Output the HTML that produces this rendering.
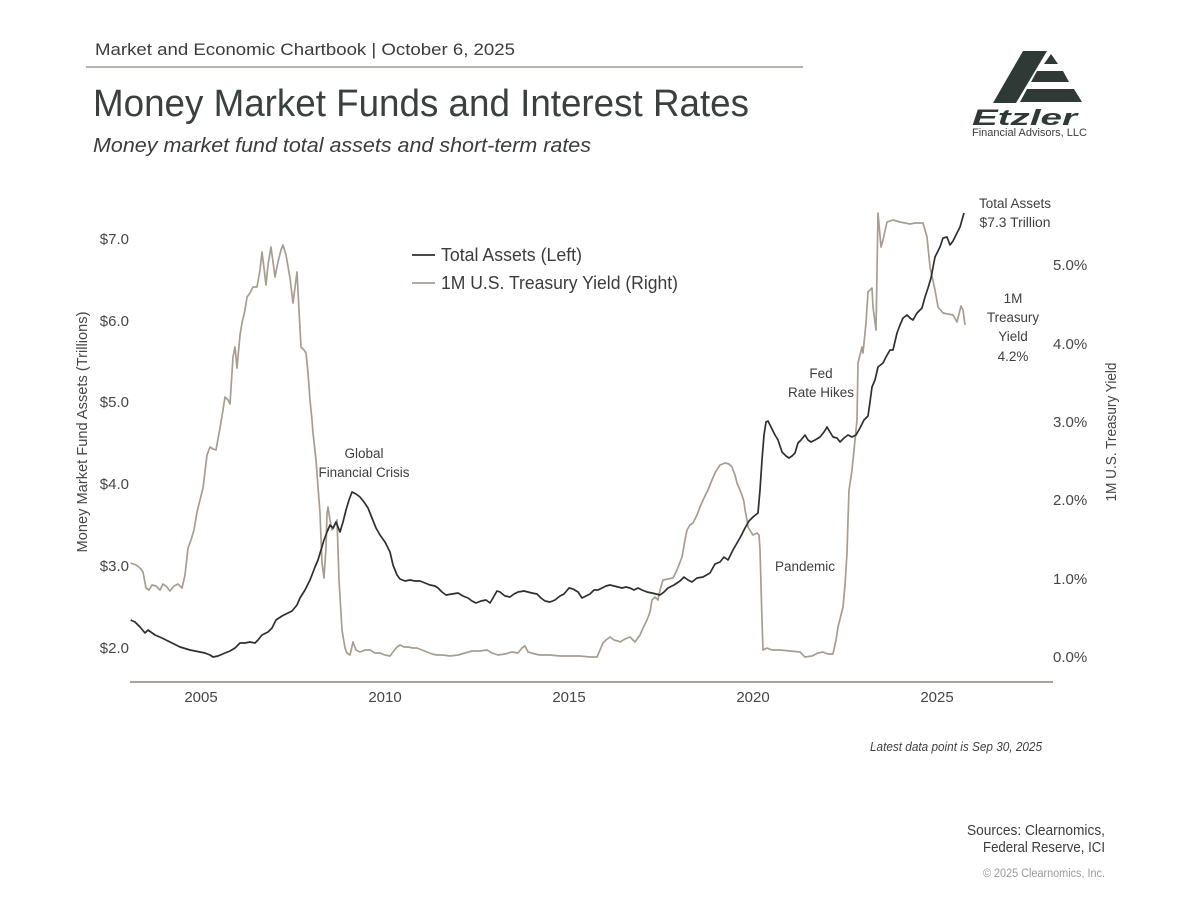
<!DOCTYPE html>
<html>
<head>
<meta charset="utf-8">
<style>
  html,body{margin:0;padding:0;background:#fff;}
  svg{display:block;}
  text{font-family:"Liberation Sans", sans-serif;}
</style>
</head>
<body>
<svg width="1200" height="900" viewBox="0 0 1200 900" xmlns="http://www.w3.org/2000/svg">
  <rect width="1200" height="900" fill="#ffffff"/>

  <!-- Header -->
  <text x="95" y="55" font-size="17" fill="#3a3d3b" textLength="420" lengthAdjust="spacingAndGlyphs">Market and Economic Chartbook | October 6, 2025</text>
  <line x1="86" y1="67" x2="803" y2="67" stroke="#8c8680" stroke-width="1.2"/>
  <text x="93" y="116" font-size="38" fill="#3a403d" textLength="656" lengthAdjust="spacingAndGlyphs">Money Market Funds and Interest Rates</text>
  <text x="93" y="152" font-size="20" font-style="italic" fill="#3a3d3b" textLength="498" lengthAdjust="spacingAndGlyphs">Money market fund total assets and short-term rates</text>

  <!-- Logo -->
  <g fill="#2f3a36">
    <polygon points="1023,51 1047,51 1016,103 993,103"/>
    <polygon points="1051,54 1058,64 1044,64"/>
    <polygon points="1037,71 1063,71 1069,82 1031,82"/>
    <polygon points="1027,89 1074,89 1082,102 1020,102"/>
  </g>
  <text x="972" y="125" font-size="22" font-weight="bold" font-style="italic" fill="#2f3a36" textLength="105" lengthAdjust="spacingAndGlyphs">Etzler</text>
  <text x="972" y="136" font-size="11" fill="#3a3d3b" textLength="115" lengthAdjust="spacingAndGlyphs">Financial Advisors, LLC</text>

  <!-- Axis line -->
  <line x1="130" y1="682" x2="1053" y2="682" stroke="#8c8379" stroke-width="1.5"/>

  <!-- Left tick labels -->
  <g font-size="15" fill="#444745" text-anchor="end">
    <text x="129" y="244">$7.0</text>
    <text x="129" y="326">$6.0</text>
    <text x="129" y="407">$5.0</text>
    <text x="129" y="489">$4.0</text>
    <text x="129" y="571">$3.0</text>
    <text x="129" y="653">$2.0</text>
  </g>
  <!-- Right tick labels -->
  <g font-size="15" fill="#444745">
    <text x="1053" y="270">5.0%</text>
    <text x="1053" y="349">4.0%</text>
    <text x="1053" y="427">3.0%</text>
    <text x="1053" y="505">2.0%</text>
    <text x="1053" y="584">1.0%</text>
    <text x="1053" y="662">0.0%</text>
  </g>
  <!-- Year labels -->
  <g font-size="15" fill="#444745" text-anchor="middle">
    <text x="201" y="702">2005</text>
    <text x="385" y="702">2010</text>
    <text x="569" y="702">2015</text>
    <text x="753" y="702">2020</text>
    <text x="937" y="702">2025</text>
  </g>

  <!-- Axis titles -->
  <text transform="translate(87,432) rotate(-90)" text-anchor="middle" font-size="15" fill="#444745" textLength="241" lengthAdjust="spacingAndGlyphs">Money Market Fund Assets (Trillions)</text>
  <text transform="translate(1116,432) rotate(-90)" text-anchor="middle" font-size="15" fill="#444745" textLength="139" lengthAdjust="spacingAndGlyphs">1M U.S. Treasury Yield</text>

  <!-- Treasury yield (light) -->
  <polyline fill="none" stroke="#a89d91" stroke-width="1.7" stroke-linejoin="round" points="130.7,563 136,565 140,568 143,572 146,588 149,590 152,585 156,586 160,590 163,584 167,587 170,591 174,586 178,584 182,588 185,575 188,548 191,540 194,530 197,512 200,500 203,488 207,455 210,447 213,449 216,450 220,428 223,410 225,397 228,400 230,404 233,357 235,347 237,368 240,335 242,323 245,310 247,297 250,293 253,287 257,287 260,270 262,252 264,268 266,285 268,265 271,247 273,262 275,277 278,262 281,250 283,245 286,255 290,278 293,303 297,272 299,310 301,347 304,350 306,353 308,373 310,400 312,420 313,433 316,460 318,487 320,513 322,563 324,578 326,547 327,513 328,507 330,520 332,530 334,527 337,520 339,580 342,630 345,648 347,653 350,655 353,642 356,650 360,652 365,650 370,650 375,653 380,653 385,655 390,656 393,652 397,647 400,645 404,647 408,647 413,648 417,648 422,650 427,652 432,654 437,655 443,655 450,656 458,655 465,653 472,651 480,651 487,650 492,653 498,655 505,654 512,652 518,653 522,648 525,646 528,652 535,654 540,655 550,655 560,656 570,656 580,656 590,657 597,657 600,650 603,643 606,640 610,637 614,640 618,641 620,642 625,639 630,637 635,642 640,635 643,628 647,620 650,612 652,600 655,597 658,600 660,590 663,580 668,579 673,578 677,570 682,557 685,540 687,530 690,525 693,523 697,515 700,507 704,498 708,490 712,480 715,473 718,468 720,465 725,463 729,464 732,467 735,475 737,483 740,490 742,495 744,502 745,510 747,520 748,527 751,532 753,535 757,533 759,535 760,550 762,620 763,650 767,648 772,650 780,650 790,651 800,652 805,657 812,656 818,653 823,652 828,654 833,654 836,640 838,627 841,615 843,607 845,585 847,553 848,520 849,490 852,470 855,440 857,420 858,363 860,355 862,347 863,353 866,323 868,292 870,290 872,288 873,307 876,330 877,273 878,213 881,247 883,240 887,222 893,220 900,222 905,223 910,224 915,223 920,223 923,223 927,237 930,267 935,290 938,307 943,313 948,314 953,315 957,322 961,306 963,310 965,325"/>

  <!-- Total assets (dark) -->
  <polyline fill="none" stroke="#2d302e" stroke-width="1.7" stroke-linejoin="round" points="130.7,620 135,622 140,627 145,633 148,630 155,635 162,638 170,642 180,647 190,650 195,651 200,652 205,653 210,655 213,657 218,656 225,653 230,651 235,648 240,643 245,643 250,642 255,643 258,640 262,635 268,632 272,628 276,620 282,616 288,613 292,611 297,605 300,598 305,590 310,580 315,567 318,560 321,550 324,540 327,532 330,525 333,528 336,522 340,532 343,522 346,510 349,500 352,492 356,494 360,497 364,502 368,508 372,518 376,528 380,535 385,542 390,552 393,565 397,575 400,579 405,581 410,580 415,581 420,581 425,583 430,585 435,586 438,588 442,592 446,595 452,594 458,593 463,596 468,598 472,601 476,603 481,601 486,600 490,603 493,598 497,591 500,592 505,596 510,597 514,594 518,592 524,591 528,592 532,593 537,594 541,598 545,601 550,602 555,600 560,596 564,594 569,588 573,589 578,592 582,598 586,596 590,594 594,590 598,590 602,588 606,586 610,585 614,586 618,587 622,588 626,587 630,588 634,590 638,588 642,590 647,592 652,593 656,594 660,595 664,592 668,588 674,585 680,581 684,577 688,580 692,582 697,578 703,577 710,573 715,564 720,562 724,557 728,560 733,550 737,543 741,536 745,528 749,521 753,517 758,513 760,490 762,460 764,435 766,422 768,421 771,427 775,435 778,440 782,452 786,456 789,458 792,456 795,453 798,443 801,440 805,435 808,440 811,442 815,440 820,437 824,432 827,427 830,432 833,437 837,438 840,442 844,438 848,435 852,437 856,435 860,428 864,420 868,416 870,402 872,387 875,380 878,367 883,363 886,357 890,350 893,350 897,333 900,325 903,318 907,315 910,318 913,320 917,313 922,308 925,297 928,288 931,278 935,257 940,247 943,238 947,237 950,245 953,241 957,233 960,227 962,220 964,213"/>

  <!-- Legend -->
  <line x1="412" y1="255" x2="435" y2="255" stroke="#2d302e" stroke-width="1.8"/>
  <text x="441" y="261" font-size="18" fill="#3a3d3b" textLength="141" lengthAdjust="spacingAndGlyphs">Total Assets (Left)</text>
  <line x1="412" y1="283" x2="435" y2="283" stroke="#a89d91" stroke-width="1.8"/>
  <text x="441" y="289" font-size="18" fill="#3a3d3b" textLength="237" lengthAdjust="spacingAndGlyphs">1M U.S. Treasury Yield (Right)</text>

  <!-- Annotations -->
  <g font-size="13.5" fill="#3d3f3c" text-anchor="middle">
    <text x="364" y="458">Global</text>
    <text x="364" y="477" textLength="91" lengthAdjust="spacingAndGlyphs">Financial Crisis</text>
    <text x="821" y="378">Fed</text>
    <text x="821" y="397" textLength="66" lengthAdjust="spacingAndGlyphs">Rate Hikes</text>
    <text x="805" y="571" textLength="60" lengthAdjust="spacingAndGlyphs">Pandemic</text>
    <text x="1015" y="208" textLength="72" lengthAdjust="spacingAndGlyphs">Total Assets</text>
    <text x="1015" y="227" textLength="71" lengthAdjust="spacingAndGlyphs">$7.3 Trillion</text>
    <text x="1013" y="303">1M</text>
    <text x="1013" y="322" textLength="52" lengthAdjust="spacingAndGlyphs">Treasury</text>
    <text x="1013" y="341">Yield</text>
    <text x="1013" y="361">4.2%</text>
  </g>

  <!-- Footer -->
  <text x="870" y="751" font-size="12.5" font-style="italic" fill="#3d3f3c" textLength="172" lengthAdjust="spacingAndGlyphs">Latest data point is Sep 30, 2025</text>
  <g text-anchor="end" fill="#3a3d3b">
    <text x="1105" y="835" font-size="14.5" textLength="138" lengthAdjust="spacingAndGlyphs">Sources: Clearnomics,</text>
    <text x="1105" y="852" font-size="14.5" textLength="122" lengthAdjust="spacingAndGlyphs">Federal Reserve, ICI</text>
    <text x="1105" y="877" font-size="11.5" fill="#9a9a9a" textLength="122" lengthAdjust="spacingAndGlyphs">© 2025 Clearnomics, Inc.</text>
  </g>
</svg>
</body>
</html>
